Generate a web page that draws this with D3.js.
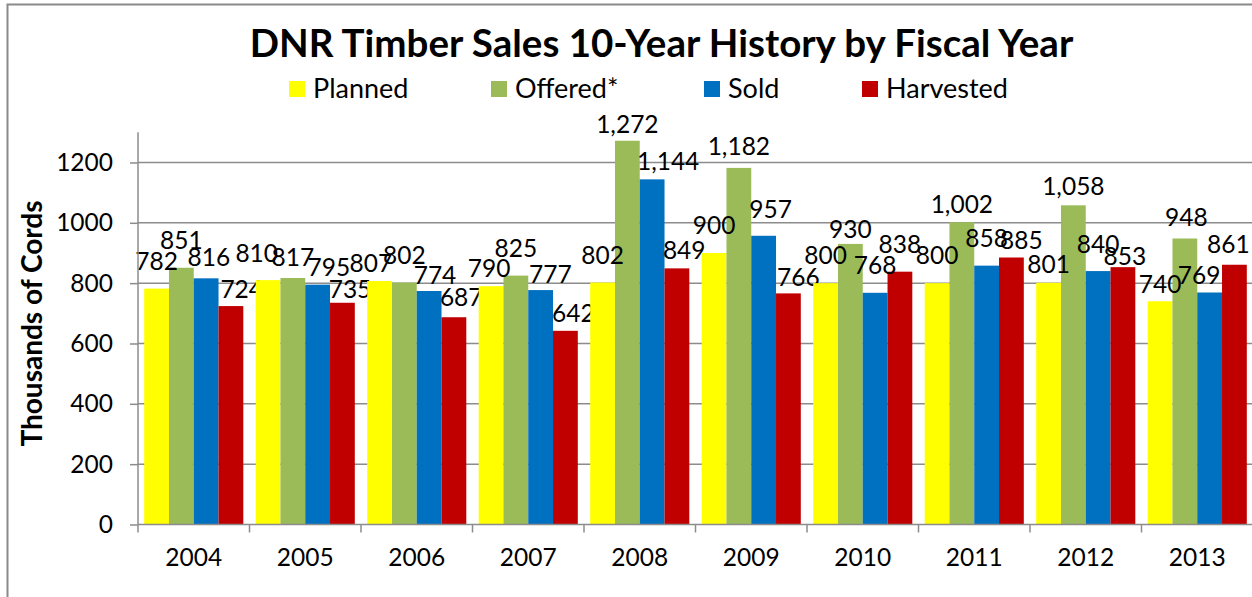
<!DOCTYPE html>
<html>
<head>
<meta charset="utf-8">
<script src="https://cdn.jsdelivr.net/npm/d3@7"></script>
<style>
  html, body { margin: 0; padding: 0; background: #fff; }
  svg { display: block; font-family: Lato, "Open Sans", sans-serif; }
</style>
</head>
<body>
<svg id="chart" width="1252" height="597"></svg>
<script>
// ---- Data ----
const years = ["2004","2005","2006","2007","2008","2009","2010","2011","2012","2013"];
const seriesNames = ["Planned","Offered*","Sold","Harvested"];
const planned   = [782, 810, 807, 790, 802, 900, 800, 800, 801, 740];
const offered   = [851, 817, 802, 825, 1272, 1182, 930, 1002, 1058, 948];
const sold      = [816, 795, 774, 777, 1144, 957, 768, 858, 840, 769];
const harvested = [724, 735, 687, 642, 849, 766, 838, 885, 853, 861];
const yTicks = [0, 200, 400, 600, 800, 1000, 1200];
const titleText = "DNR Timber Sales 10-Year History by Fiscal Year";
const yAxisTitle = "Thousands of Cords";

// ---- Layout / style ----
const colors = ["#FFFF00", "#9BBB59", "#0070C0", "#C00000"];
const seriesValues = [planned, offered, sold, harvested];
const plot = { left: 138, right: 1253, top: 132.3, bottom: 524.5 };
const gridColor = "#8c8c8c";
const numFont = 24.5;
// manual label nudges [dx, dy] per year and series (as placed in the original)
const labelNudge = [
  [[0,0],[0,0],[2.7,7],[10.8,11]],
  [[-11.4,1],[0,6.5],[11.2,10],[7.6,14]],
  [[-8.8,10],[0,0],[5.9,12],[7.3,7.5]],
  [[-2,10],[0,0],[9.7,12],[8,10]],
  [[0,0],[0,11.5],[16,10],[7.3,10]],
  [[0,0],[0,6],[7,1.5],[10,12]],
  [[0,0],[0,13],[0,0],[0,0]],
  [[0,0],[0,10],[0,0],[10,10]],
  [[0,9.5],[0,8.7],[0,0.5],[2,17]],
  [[0,11],[1.5,7],[-10.5,11],[-6,7.5]]
];

const svg = d3.select("#chart");

// outer chart border
svg.append("path")
  .attr("d", "M7.5,600 V4.5 H1260")
  .attr("fill", "none").attr("stroke", "#8a8a8a").attr("stroke-width", 2);

const x0 = d3.scaleBand().domain(years).range([plot.left, plot.right]).padding(0);
const groupPad = x0.bandwidth() * 0.0556;
const x1 = d3.scaleBand().domain(d3.range(4))
  .range([groupPad, x0.bandwidth() - groupPad]).padding(0);
const y = d3.scaleLinear().domain([0, 1300]).range([plot.bottom, plot.top]);

// gridlines
svg.append("g").selectAll("line").data(yTicks.filter(d => d > 0)).join("line")
  .attr("x1", plot.left).attr("x2", plot.right)
  .attr("y1", d => y(d)).attr("y2", d => y(d))
  .attr("stroke", gridColor).attr("stroke-width", 1.5);

// bars
const rows = years.map((yr, i) => ({ year: yr, i, vals: seriesValues.map(s => s[i]) }));
const groups = svg.append("g").selectAll("g").data(rows).join("g")
  .attr("transform", d => `translate(${x0(d.year)},0)`);
groups.selectAll("rect").data(d => d.vals.map((v, k) => ({ v, k }))).join("rect")
  .attr("x", d => x1(d.k)).attr("width", x1.bandwidth())
  .attr("y", d => y(d.v)).attr("height", d => y(0) - y(d.v))
  .attr("fill", d => colors[d.k]);

// data labels
const fmt = d3.format(",");
groups.selectAll("text").data(d => d.vals.map((v, k) => ({ v, k, n: labelNudge[d.i][k] }))).join("text")
  .attr("x", d => x1(d.k) + x1.bandwidth() / 2 + d.n[0])
  .attr("y", d => y(d.v) - 19 + d.n[1])
  .attr("text-anchor", "middle")
  .attr("font-size", numFont).attr("fill", "#000")
  .text(d => fmt(d.v));

// y axis
const yAxis = svg.append("g").attr("transform", `translate(${plot.left},0)`)
  .call(d3.axisLeft(y).tickValues(yTicks).tickSize(8).tickPadding(17).tickFormat(d3.format("d")));
yAxis.select(".domain").attr("d", `M0,${plot.top}V${plot.bottom}`)
  .attr("stroke", gridColor).attr("stroke-width", 1.5);
yAxis.selectAll(".tick line").attr("stroke", gridColor).attr("stroke-width", 1.5);
yAxis.selectAll(".tick text").attr("font-size", numFont).attr("font-family", "Lato, sans-serif")
  .attr("fill", "#000").attr("dy", "0.33em");

// x axis
const xAxis = svg.append("g").attr("transform", `translate(0,${plot.bottom})`);
xAxis.append("line").attr("x1", plot.left).attr("x2", plot.right)
  .attr("stroke", gridColor).attr("stroke-width", 1.5);
const boundaries = years.map(yv => x0(yv)).concat([plot.right]);
xAxis.selectAll("line.tk").data(boundaries).join("line").attr("class", "tk")
  .attr("x1", d => d).attr("x2", d => d).attr("y1", 0).attr("y2", 8)
  .attr("stroke", gridColor).attr("stroke-width", 1.5);
xAxis.selectAll("text").data(years).join("text")
  .attr("x", d => x0(d) + x0.bandwidth() / 2).attr("y", 41.5)
  .attr("text-anchor", "middle").attr("font-size", numFont).attr("fill", "#000")
  .text(d => d);

// y axis title
svg.append("text")
  .attr("transform", "translate(42,323.5) rotate(-90)")
  .attr("text-anchor", "middle").attr("font-size", 28).attr("font-weight", "bold")
  .text(yAxisTitle);

// title
svg.append("text").attr("x", 661.5).attr("y", 57).attr("text-anchor", "middle")
  .attr("font-size", 38.5).attr("font-weight", "bold").text(titleText);

// legend
const legendX = [289, 491, 704, 862];
const legend = svg.append("g").selectAll("g").data(seriesNames).join("g")
  .attr("transform", (d, i) => `translate(${legendX[i]},81)`);
legend.append("rect").attr("width", 16).attr("height", 16).attr("fill", (d, i) => colors[i]);
legend.append("text").attr("x", 24).attr("y", 16.5).attr("font-size", 27).text(d => d);
</script>
</body>
</html>
